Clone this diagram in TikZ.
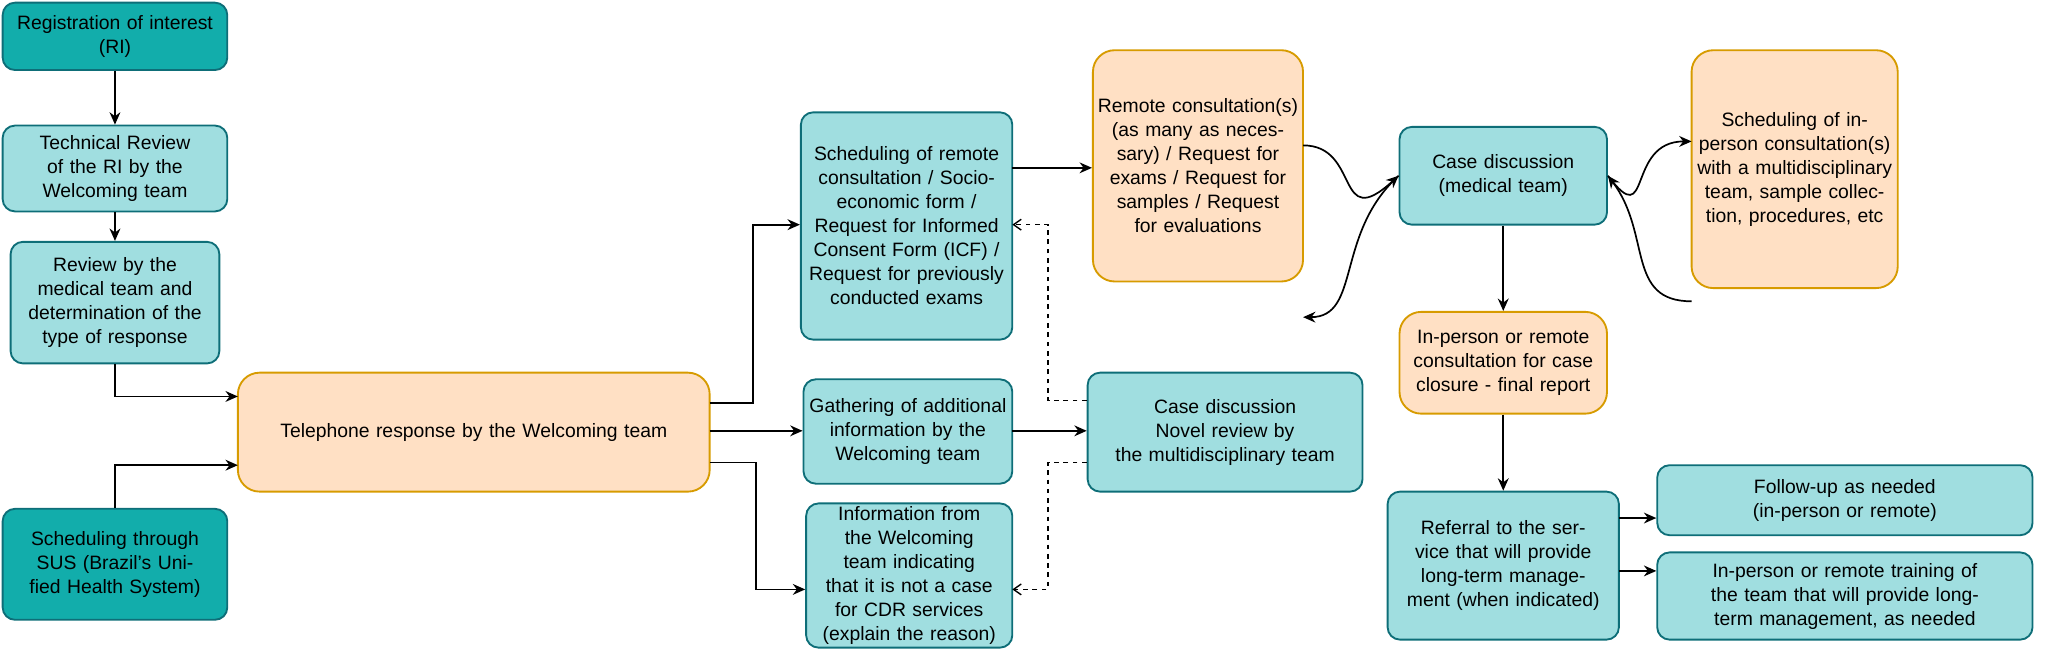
\documentclass[tikz,border=0pt]{standalone}
\usepackage{fontspec}
\setmainfont{Liberation Sans}
\usetikzlibrary{arrows.meta}
\definecolor{dteal}{HTML}{12ADAB}
\definecolor{dtealb}{HTML}{0E6E78}
\definecolor{lteal}{HTML}{A0DEE0}
\definecolor{ltealb}{HTML}{0E6E78}
\definecolor{orf}{HTML}{FFE0C4}
\definecolor{orb}{HTML}{D79B00}
\begin{document}
\begin{tikzpicture}[x=0.03cm,y=-0.03cm,
  base/.style={draw,line width=1.2pt,rounded corners=8pt,align=center,inner sep=2pt,
    font=\fontsize{12.5}{15.5}\selectfont},
  dk/.style={base,fill=dteal,draw=dtealb},
  lt/.style={base,fill=lteal,draw=ltealb},
  og/.style={base,fill=orf,draw=orb,rounded corners=14pt},
  ar/.style={-{Stealth[length=8pt,width=7pt]},line width=1.1pt},
  da/.style={-{Straight Barb[length=5pt,width=7pt]},line width=0.9pt,dash pattern=on 3pt off 3pt}]
\useasboundingbox (0,0) rectangle (1555,507);
\newcommand\bx[7]{\node[#2,minimum width=(#5-#3)*0.03cm,minimum height=(#6-#4)*0.03cm,text width=(#5-#3)*0.03cm-6pt] (#1) at ({(#3+#5)/2},{(#4+#6)/2}) {#7};}
\bx{ri}{dk}{2}{2}{172}{53}{Registration of interest\\(RI)}
\bx{tech}{lt}{2}{95}{172}{160}{Technical Review of the RI by the Welcoming team}
\bx{rev}{lt}{8}{183}{166}{275}{Review by the medical team and determination of the type of response}
\bx{sus}{dk}{2}{385}{172}{469}{Scheduling through SUS (Brazil's Unified Health System)}
\bx{tel}{og}{180}{282}{537}{372}{Telephone response by the Welcoming team}
\bx{sch}{lt}{606}{85}{766}{257}{Scheduling of remote consultation / Socio-economic form / Request for Informed Consent Form (ICF) / Request for previously conducted exams}
\bx{gat}{lt}{608}{287}{766}{366}{Gathering of additional information by the Welcoming team}
\bx{inf}{lt}{610}{390}{766}{481}{Information from the Welcoming team indicating that it is not a case for CDR services (explain the reason)}
\bx{cnv}{lt}{823}{282}{1031}{372}{Case discussion\\Novel review by\\the multidisciplinary team}
\bx{rem}{og}{827}{38}{986}{213}{Remote consultation(s) (as many as necessary) / Request for exams / Request for samples / Request for evaluations}
\bx{cmd}{lt}{1059}{96}{1216}{170}{Case discussion\\(medical team)}
\bx{sip}{og}{1280}{38}{1436}{218}{Scheduling of in-person consultation(s) with a multidisciplinary team, sample collection, procedures, etc}
\bx{clo}{og}{1059}{236}{1216}{313}{In-person or remote consultation for case closure - final report}
\bx{ref}{lt}{1050}{372}{1225}{484}{Referral to the service that will provide long-term management (when indicated)}
\bx{fol}{lt}{1254}{352}{1538}{405}{Follow-up as needed (in-person or remote)}
\bx{trn}{lt}{1254}{418}{1538}{484}{In-person or remote training of the team that will provide long-term management, as needed}
\draw[ar] (ri) -- (tech);
\draw[ar] (tech) -- (rev);
\draw[ar] (rev.south) |- (180,300);
\draw[ar] (sus.north) |- (180,352);
\draw[ar] (537,305) -| (570,170) -- (sch.west |- 0,170);
\draw[ar] (537,326) -- (gat.west |- 0,326);
\draw[ar] (537,350) -| (572,446) -- (inf.west |- 0,446);
\draw[ar] (766,326) -- (cnv.west |- 0,326);
\draw[da] (cnv.west |- 0,303) -| (793,170) -- (766,170);
\draw[da] (cnv.west |- 0,350) -| (793,446) -- (766,446);
\draw[ar] (766,127) -- (rem.west |- 0,127);
\draw[ar] (986,110) .. controls (1030,110) and (1010,177) .. (cmd.west);
\draw[ar] (cmd.west) .. controls (1010,177) and (1030,240) .. (986,240);
\draw[ar] (cmd.east) .. controls (1250,177) and (1230,107) .. (1280,107);
\draw[ar] (1280,228) .. controls (1230,228) and (1250,177) .. (cmd.east);
\draw[ar] (cmd) -- (clo);
\draw[ar] (clo) -- (ref);
\draw[ar] (1225,392) -- (fol.west |- 0,392);
\draw[ar] (1225,432) -- (trn.west |- 0,432);
\end{tikzpicture}
\end{document}
